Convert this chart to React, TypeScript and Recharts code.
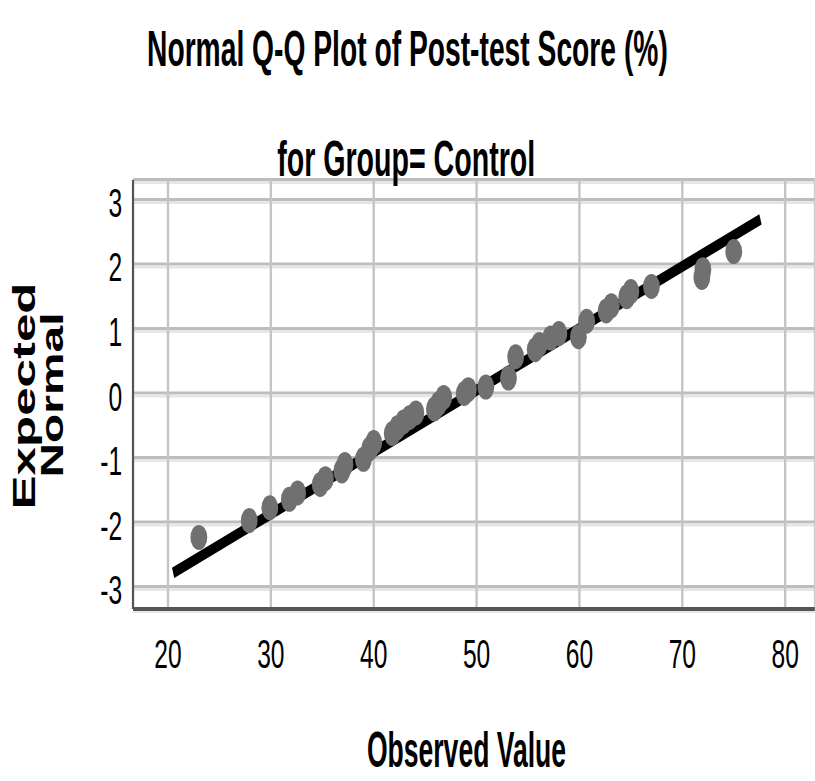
import { CartesianGrid, ReferenceLine, Scatter, ScatterChart, XAxis, YAxis } from "recharts";

const observedValues = [
  23, 27.9, 29.9, 31.8, 32.6, 34.8, 35.3, 36.9, 37.2, 39.0, 39.6, 40.0, 41.8, 42.3, 42.9, 43.5,
  44.1, 45.9, 46.3, 46.8, 48.8, 49.2, 50.9, 53.1, 53.8, 55.7, 56.1, 57.2, 58.0, 59.9, 60.7, 62.6,
  63.1, 64.6, 65.0, 67.0, 71.9, 72.0, 75.0,
];
const expectedNormal = [
  -2.23, -1.97, -1.77, -1.64, -1.54, -1.41, -1.32, -1.2, -1.1, -1.02, -0.86, -0.76, -0.62, -0.53,
  -0.44, -0.37, -0.3, -0.24, -0.16, -0.06, 0.0, 0.06, 0.1, 0.24, 0.57, 0.68, 0.76, 0.86, 0.93, 0.88,
  1.12, 1.28, 1.36, 1.5, 1.58, 1.66, 1.8, 1.92, 2.2,
];
const xTicks = [20, 30, 40, 50, 60, 70, 80];
const yTicks = [-3, -2, -1, 0, 1, 2, 3];
const fitLineObserved = [20.5, 77.6];
const fitLineExpected = [-2.78, 2.7];

const points = observedValues.map((x, i) => ({ x, y: expectedNormal[i] }));

// the reference is squeezed horizontally, so the chart is laid out wide and scaled down
const SQUEEZE = 0.6;
const W = 815;
const H = 781;
const FONT = "'Liberation Sans', Arial, sans-serif";

function Dot({ cx, cy }: { cx?: number; cy?: number }) {
  return <ellipse cx={cx} cy={cy} rx={14} ry={12.5} fill="#707070" />;
}

function XTick({ x, y, payload }: any) {
  return (
    <text x={x} y={y + 59} textAnchor="middle" fontSize={41} fontFamily={FONT} fill="#000">
      {payload.value}
    </text>
  );
}

function YTick({ x, y, payload }: any) {
  return (
    <text x={x - 18} y={y + 17} textAnchor="end" fontSize={41} fontFamily={FONT} fill="#000">
      {payload.value}
    </text>
  );
}

function HLine(props: any) {
  const { x1, x2, y1 } = props;
  return (
    <g key={props.key}>
      <line x1={x1} x2={x2} y1={y1 - 0.5} y2={y1 - 0.5} stroke="#bdbdbd" strokeWidth={3} />
      <line x1={x1} x2={x2} y1={y1 + 2.5} y2={y1 + 2.5} stroke="#e6e6e6" strokeWidth={3} />
    </g>
  );
}

export default function App() {
  const wide = W / SQUEEZE;
  return (
    <div
      style={{ position: "absolute", left: 0, top: 0, width: W, height: H, overflow: "hidden", background: "#fff" }}
    >
      <div style={{ width: wide, height: H, transform: `scaleX(${SQUEEZE})`, transformOrigin: "0 0" }}>
        <ScatterChart width={wide} height={H} margin={{ top: 180, right: 0, bottom: 142, left: 161.7 }}>
          <CartesianGrid horizontal={HLine} stroke="#c4c4c4" strokeWidth={4} />
          <XAxis
            type="number"
            dataKey="x"
            domain={[16.6, 82.9]}
            ticks={xTicks}
            interval={0}
            height={30}
            tickSize={0}
            tickMargin={0}
            tickLine={false}
            tick={<XTick />}
            axisLine={{ stroke: "#555", strokeWidth: 4 }}
          />
          <YAxis
            type="number"
            dataKey="y"
            domain={[-3.34, 3.31]}
            ticks={yTicks}
            interval={0}
            width={60}
            tickSize={0}
            tickMargin={0}
            tickLine={false}
            tick={<YTick />}
            axisLine={{ stroke: "#555", strokeWidth: 3.5 }}
          />
          <Scatter data={points} shape={<Dot />} isAnimationActive={false} />
          <ReferenceLine
            segment={[
              { x: fitLineObserved[0], y: fitLineExpected[0] },
              { x: fitLineObserved[1], y: fitLineExpected[1] },
            ]}
            stroke="#000"
            strokeWidth={11}
          />
          <text
            x={679}
            y={66}
            textAnchor="middle"
            fontSize={50}
            fontWeight="bold"
            fontFamily={FONT}
            textLength={868}
            lengthAdjust="spacingAndGlyphs"
          >
            Normal Q-Q Plot of Post-test Score (%)
          </text>
          <text
            x={677}
            y={176}
            textAnchor="middle"
            fontSize={50}
            fontWeight="bold"
            fontFamily={FONT}
            textLength={430}
            lengthAdjust="spacingAndGlyphs"
          >
            for Group= Control
          </text>
          <text
            x={777.5}
            y={767}
            textAnchor="middle"
            fontSize={50}
            fontWeight="bold"
            fontFamily={FONT}
            textLength={332}
            lengthAdjust="spacingAndGlyphs"
          >
            Observed Value
          </text>
          <text
            transform="translate(58.3,396) rotate(-90)"
            textAnchor="middle"
            fontSize={51}
            fontWeight="bold"
            fontFamily={FONT}
            textLength={227}
            lengthAdjust="spacingAndGlyphs"
          >
            Expected
          </text>
          <text
            transform="translate(105,395) rotate(-90)"
            textAnchor="middle"
            fontSize={51}
            fontWeight="bold"
            fontFamily={FONT}
            textLength={165}
            lengthAdjust="spacingAndGlyphs"
          >
            Normal
          </text>
        </ScatterChart>
      </div>
    </div>
  );
}
